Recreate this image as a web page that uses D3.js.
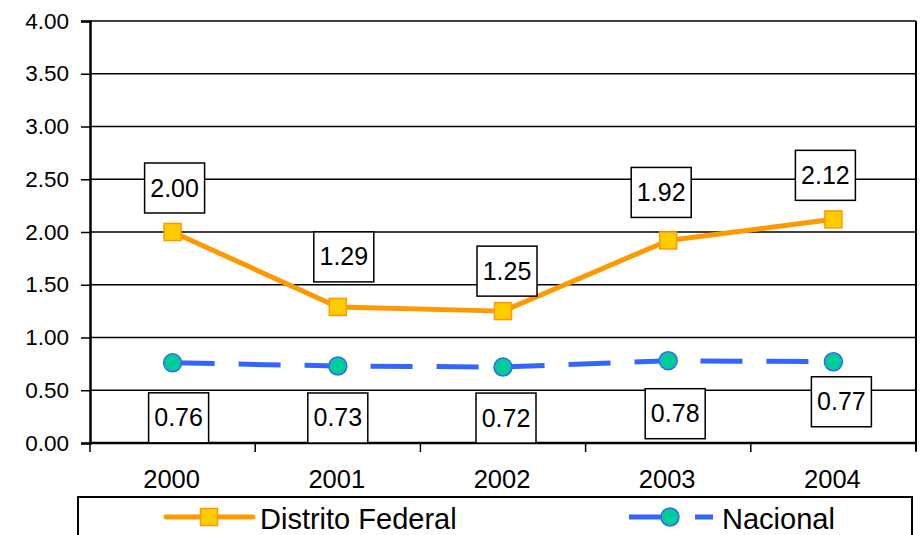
<!DOCTYPE html>
<html>
<head>
<meta charset="utf-8">
<script src="https://cdn.jsdelivr.net/npm/d3@7"></script>
<style>
  html, body { margin: 0; padding: 0; background: #fff; }
  svg { display: block; font-family: "Liberation Sans", Arial, sans-serif; }
</style>
</head>
<body>
<svg id="chart" width="920" height="535"></svg>
<script>
// Data
const years = ["2000", "2001", "2002", "2003", "2004"];
const distritoFederal = [2.00, 1.29, 1.25, 1.92, 2.12];
const nacional = [0.76, 0.73, 0.72, 0.78, 0.77];
const yTicks = [0, 0.5, 1, 1.5, 2, 2.5, 3, 3.5, 4];
const seriesNames = ["Distrito Federal", "Nacional"];

// Label box placement relative to each point (layout only)
const dfLabelNudge = [[2, -44], [6, -50], [4, -40], [-7, -48], [-8, -44]];
const naLabelNudge = [[6, 55], [0, 52], [3, 51], [7, 53], [8, 40]];

const svg = d3.select("#chart");
const plot = { left: 90, right: 916, top: 21, bottom: 443 };
const FONT = "Liberation Sans, Arial, sans-serif";

const x = d3.scaleBand().domain(years).range([plot.left, plot.right]).padding(0);
const y = d3.scaleLinear().domain([0, 4]).range([plot.bottom, plot.top]);
const cx = d => x(d) + x.bandwidth() / 2;

const ORANGE = "#FF9900", GOLD = "#FFCC00", BLUE = "#3366FF", TEAL = "#00CC99";

// Horizontal gridlines
svg.append("g").selectAll("line").data(yTicks.filter(t => t > 0)).join("line")
  .attr("x1", plot.left).attr("x2", plot.right)
  .attr("y1", d => y(d)).attr("y2", d => y(d))
  .attr("stroke", "#000").attr("stroke-width", 1.5);

// Y axis
const yAxis = d3.axisLeft(y).tickValues(yTicks).tickFormat(d3.format(".2f"))
  .tickSize(9).tickPadding(12);
const gy = svg.append("g").attr("transform", `translate(${plot.left},0)`).call(yAxis);
gy.attr("font-family", FONT);
gy.select(".domain").attr("stroke", "#000").attr("stroke-width", 2.5);
gy.selectAll(".tick line").attr("stroke", "#000").attr("stroke-width", 1.5);
gy.selectAll(".tick text").attr("font-size", 22.5).attr("fill", "#000");

// X axis: ticks at category boundaries
const gx = svg.append("g").attr("transform", `translate(0,${plot.bottom})`);
gx.append("line").attr("x1", plot.left).attr("x2", plot.right)
  .attr("stroke", "#000").attr("stroke-width", 2.5);
const bounds = years.map(d => x(d)).concat([plot.right]);
gx.selectAll("line.tk").data(bounds).join("line").attr("class", "tk")
  .attr("x1", d => d).attr("x2", d => d).attr("y1", 0).attr("y2", 9)
  .attr("stroke", "#000").attr("stroke-width", 1.5);
gx.selectAll("text").data(years).join("text")
  .attr("x", d => cx(d) - 1).attr("y", 45)
  .attr("text-anchor", "middle").attr("font-size", 25.5).text(d => d);

// Right border of plot area
svg.append("line").attr("x1", plot.right).attr("x2", plot.right)
  .attr("y1", plot.top).attr("y2", plot.bottom + 8)
  .attr("stroke", "#000").attr("stroke-width", 2);

// Distrito Federal line
const dfPts = years.map((d, i) => [cx(d), y(distritoFederal[i])]);
svg.append("path").attr("d", d3.line()(dfPts))
  .attr("fill", "none").attr("stroke", ORANGE).attr("stroke-width", 5)
  .attr("stroke-linejoin", "round");

// Nacional line (long dashes)
const naPts = years.map((d, i) => [cx(d), y(nacional[i])]);
svg.append("path").attr("d", d3.line()(naPts))
  .attr("fill", "none").attr("stroke", BLUE).attr("stroke-width", 5)
  .attr("stroke-dasharray", "42 24");

// Markers
const sq = 17;
svg.append("g").selectAll("rect").data(dfPts).join("rect")
  .attr("x", p => p[0] - sq / 2).attr("y", p => p[1] - sq / 2)
  .attr("width", sq).attr("height", sq)
  .attr("fill", GOLD).attr("stroke", ORANGE).attr("stroke-width", 1.5);
svg.append("g").selectAll("circle").data(naPts).join("circle")
  .attr("cx", p => p[0]).attr("cy", p => p[1]).attr("r", 9)
  .attr("fill", TEAL).attr("stroke", BLUE).attr("stroke-width", 1.5);

// Value labels in boxes
function labels(values, nudge) {
  const g = svg.append("g").selectAll("g").data(values).join("g")
    .attr("transform", (v, i) =>
      `translate(${cx(years[i]) + nudge[i][0]},${y(v) + nudge[i][1]})`);
  g.append("rect").attr("x", -30).attr("y", -25).attr("width", 60).attr("height", 50)
    .attr("fill", "#fff").attr("stroke", "#000").attr("stroke-width", 1.5);
  g.append("text").attr("x", 0).attr("y", 8.5).attr("text-anchor", "middle")
    .attr("font-size", 25).text(v => d3.format(".2f")(v));
}
labels(distritoFederal, dfLabelNudge);
labels(nacional, naLabelNudge);

// Legend
const lg = svg.append("g");
lg.append("rect").attr("x", 78).attr("y", 497).attr("width", 834).attr("height", 60)
  .attr("fill", "#fff").attr("stroke", "#000").attr("stroke-width", 2);
const ly = 517;
lg.append("line").attr("x1", 166).attr("x2", 253).attr("y1", ly).attr("y2", ly)
  .attr("stroke", ORANGE).attr("stroke-width", 5).attr("stroke-linecap", "round");
lg.append("rect").attr("x", 209 - sq / 2).attr("y", ly - sq / 2).attr("width", sq).attr("height", sq)
  .attr("fill", GOLD).attr("stroke", ORANGE).attr("stroke-width", 1.5);
lg.append("text").attr("x", 260).attr("y", 529).attr("font-size", 29).text(seriesNames[0]);
lg.append("line").attr("x1", 629).attr("x2", 713).attr("y1", ly).attr("y2", ly)
  .attr("stroke", BLUE).attr("stroke-width", 5).attr("stroke-dasharray", "42 24");
lg.append("circle").attr("cx", 670).attr("cy", ly).attr("r", 9)
  .attr("fill", TEAL).attr("stroke", BLUE).attr("stroke-width", 1.5);
lg.append("text").attr("x", 722).attr("y", 529).attr("font-size", 29).text(seriesNames[1]);
</script>
</body>
</html>
